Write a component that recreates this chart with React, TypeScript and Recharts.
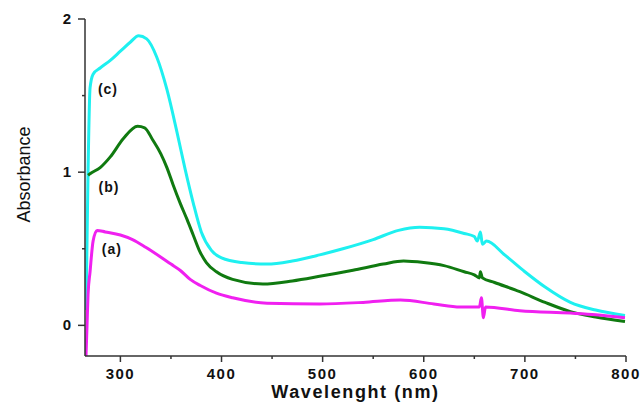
import { LineChart, Line, XAxis, YAxis, ReferenceDot } from 'recharts';

const FONT = '"Liberation Sans", Arial, sans-serif';

// wavelength ticks (labelled) and minor ticks
const xTicks = [300, 350, 400, 450, 500, 550, 600, 650, 700, 750, 800];
const yTicks = [0, 0.5, 1, 1.5, 2];

// (c) cyan
const cNm = [266, 268, 270, 273, 280, 290, 300, 310, 318, 326, 336, 346, 356, 364, 372, 380, 390, 400, 420, 445, 470, 497, 520, 550, 575, 596, 620, 640, 650, 653, 656, 658, 662, 680, 700, 720, 745, 770, 799];
const cAbs = [0.1, 1.0, 1.55, 1.64, 1.68, 1.73, 1.79, 1.85, 1.89, 1.87, 1.75, 1.54, 1.26, 1.02, 0.8, 0.61, 0.49, 0.44, 0.41, 0.4, 0.42, 0.46, 0.5, 0.56, 0.62, 0.64, 0.63, 0.6, 0.58, 0.55, 0.61, 0.53, 0.55, 0.46, 0.35, 0.25, 0.15, 0.1, 0.065];

// (b) green
const bNm = [268, 270, 280, 290, 303, 317, 324, 332, 340, 346, 352, 359, 366, 372, 378, 385, 395, 411, 441, 470, 497, 530, 560, 580, 600, 620, 640, 650, 655, 656, 658, 670, 695, 720, 745, 770, 799];
const bAbs = [0.98, 0.99, 1.03, 1.1, 1.22, 1.3, 1.29, 1.21, 1.12, 1.03, 0.92, 0.8, 0.69, 0.59, 0.49, 0.41, 0.35, 0.3, 0.27, 0.29, 0.32, 0.36, 0.4, 0.42, 0.41, 0.39, 0.35, 0.33, 0.31, 0.35, 0.31, 0.28, 0.22, 0.15, 0.09, 0.055, 0.025];

// (a) magenta
const aNm = [266, 267, 268, 270, 273, 277, 285, 300, 312, 325, 339, 350, 359, 369, 379, 395, 411, 445, 497, 540, 577, 610, 636, 655, 657, 659, 661, 695, 745, 770, 799];
const aAbs = [-0.2, 0.0, 0.2, 0.35, 0.55, 0.62, 0.61, 0.59, 0.56, 0.51, 0.45, 0.4, 0.36, 0.3, 0.26, 0.21, 0.18, 0.145, 0.14, 0.15, 0.165, 0.14, 0.12, 0.12, 0.18, 0.05, 0.12, 0.095, 0.08, 0.07, 0.05];

const curveLabels = ['(c)', '(b)', '(a)'];
const labelNm = [287.7, 288.7, 291.6];
const labelAbs = [1.54, 0.9, 0.5];

const toPoints = (nm: number[], abs: number[]) => nm.map((w, i) => ({ nm: w, abs: abs[i] }));

const XTick = (props: any) => {
  const { x, y, payload } = props;
  const major = payload.value % 100 === 0;
  return (
    <g>
      <line x1={x} x2={x} y1={y} y2={y + (major ? 6 : 3)} stroke="#333" strokeWidth={1.5} />
      {major && (
        <text x={x} y={y + 23} textAnchor="middle" fontFamily={FONT} fontWeight={700} fontSize={15} letterSpacing={1.5} fill="#111">
          {payload.value}
        </text>
      )}
    </g>
  );
};

const YTick = (props: any) => {
  const { x, y, payload } = props;
  const major = Number.isInteger(payload.value);
  return (
    <g>
      <line x1={x} x2={x - (major ? 7 : 3)} y1={y} y2={y} stroke="#333" strokeWidth={1.5} />
      {major && (
        <text x={x - 14} y={y + 5} textAnchor="end" fontFamily={FONT} fontWeight={700} fontSize={15} fill="#111">
          {payload.value}
        </text>
      )}
    </g>
  );
};

export default function App() {
  const cData = toPoints(cNm, cAbs);
  const bData = toPoints(bNm, bAbs);
  const aData = toPoints(aNm, aAbs);

  return (
    <div style={{ position: 'absolute', left: 0, top: 0, width: 641, height: 410, background: '#fff' }}>
      <LineChart width={641} height={410} margin={{ top: 19, right: 15, left: 0, bottom: 9 }}>
        <XAxis
          dataKey="nm"
          type="number"
          domain={[265, 800]}
          ticks={xTicks}
          allowDataOverflow
          height={45}
          stroke="#333"
          strokeWidth={1.5}
          tickLine={false}
          tickSize={0}
          tickMargin={0}
          tick={<XTick />}
          label={{
            value: 'Wavelenght (nm)',
            position: 'insideBottom',
            offset: 3,
            fontFamily: FONT,
            fontWeight: 700,
            fontSize: 18,
            letterSpacing: 1.6,
            fill: '#111',
          }}
        />
        <YAxis
          type="number"
          domain={[-0.2, 2]}
          ticks={yTicks}
          allowDataOverflow
          width={85}
          stroke="#333"
          strokeWidth={1.5}
          tickLine={false}
          tickSize={0}
          tickMargin={0}
          tick={<YTick />}
          label={{
            content: (p: any) => {
              const vb = p.viewBox;
              const cx = vb.x + 30;
              const cy = vb.y + vb.height / 2 - 13;
              return (
                <text x={cx} y={cy} transform={`rotate(-90 ${cx} ${cy})`} textAnchor="middle" fontFamily={FONT} fontSize={18} fill="#111">
                  Absorbance
                </text>
              );
            },
          }}
        />
        <Line data={cData} dataKey="abs" type="monotone" stroke="#1ef0f0" strokeWidth={3} dot={false} isAnimationActive={false} />
        <Line data={bData} dataKey="abs" type="monotone" stroke="#107a10" strokeWidth={3} dot={false} isAnimationActive={false} />
        <Line data={aData} dataKey="abs" type="monotone" stroke="#f020f0" strokeWidth={3} dot={false} isAnimationActive={false} />
        {curveLabels.map((t, i) => (
          <ReferenceDot
            key={t}
            x={labelNm[i]}
            y={labelAbs[i]}
            r={0}
            stroke="none"
            label={{ value: t, position: 'center', fontFamily: FONT, fontWeight: 700, fontSize: 14, letterSpacing: 1, fill: '#111' }}
          />
        ))}
      </LineChart>
    </div>
  );
}
